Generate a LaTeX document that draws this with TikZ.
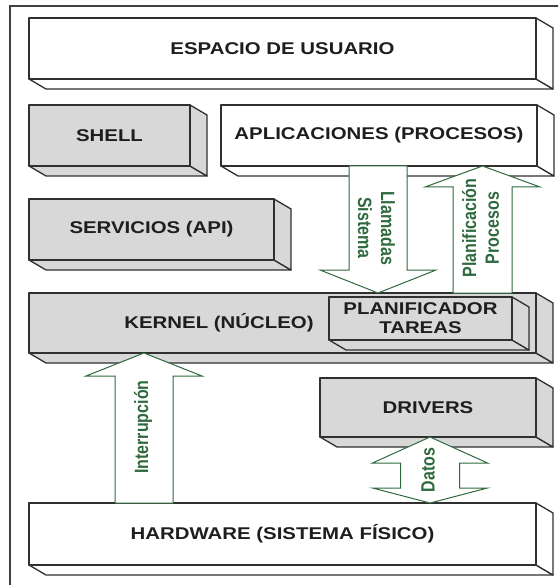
\documentclass[tikz,border=0pt]{standalone}
\usepackage{fontspec}
\setmainfont{Liberation Sans}[FakeStretch=1.2]
\newfontfamily\lblfont{Liberation Sans}
\usetikzlibrary{calc}

\definecolor{edge}{HTML}{303030}
\definecolor{framec}{HTML}{404040}
\definecolor{slabgray}{HTML}{D8D8D8}
\definecolor{flow}{HTML}{2F6A3E}
\definecolor{ink}{HTML}{1E1E1E}

\tikzset{
  slabline/.style={draw=edge, line width=1.3pt, line join=round},
  boxtext/.style={font=\fontsize{17}{19}\selectfont\bfseries, text=ink, align=center},
  flowarrow/.style={draw=flow, fill=white, line width=1pt, line join=miter},
  flowtext/.style={font=\lblfont\fontsize{16}{19}\selectfont\bfseries, text=flow, align=center, inner sep=0pt},
  frameline/.style={draw=framec, line width=1.2pt}
}

% 3-D slab: name, x1, y1, x2, y2 (front face), fill, text
\newcommand\slab[7]{%
  \pgfmathsetmacro\slabw{#4-#2}%
  \pgfmathsetmacro\slabh{#5-#3}%
  \draw[slabline, fill=#6] (#2,#5) -- (#2+17,#5+10) -- (#4+17,#5+10) -- (#4,#5) -- cycle;
  \draw[slabline, fill=#6] (#4,#3) -- (#4+17,#3+10) -- (#4+17,#5+10) -- (#4,#5) -- cycle;
  \node[slabline, fill=#6, minimum width=\slabw pt, minimum height=\slabh pt,
        anchor=north west, inner sep=0pt, outer sep=0pt, boxtext] (#1) at (#2,#3) {#7};
}

% vertical block arrow: start, tip, half shaft, half head, tip-to-head-base offset
\newcommand\blockarrow[5]{%
  \draw[flowarrow]
    ($(#1)+(-#3,0)$) -- ($(#1)+(#3,0)$) -- ($(#2)+(#3,#5)$) -- ($(#2)+(#4,#5)$)
    -- (#2) -- ($(#2)+(-#4,#5)$) -- ($(#2)+(-#3,#5)$) -- cycle;
}

\begin{document}
\begin{tikzpicture}[x=1pt, y=-1pt]
  \useasboundingbox (0,0) rectangle (558,585);
  \clip (0,0) rectangle (558,585);

  % outer frame
  \draw[frameline] (10,600) |- (580,6);

  % layers
  \slab{esp}{29}{18}{536}{79}{white}{ESPACIO DE USUARIO}
  \slab{shell}{29}{105}{190}{166}{slabgray}{SHELL}
  \slab{apl}{221}{105}{537}{166}{white}{APLICACIONES (PROCESOS)}
  \slab{serv}{29}{199}{274}{260}{slabgray}{SERVICIOS (API)}
  \slab{kern}{29}{293}{536}{353}{slabgray}{}
  \node[boxtext] (kerntxt) at (219,323) {KERNEL (NÚCLEO)};
  \slab{plan}{329}{297}{512}{340}{slabgray}{PLANIFICADOR\\TAREAS}
  \slab{drv}{320}{378}{536}{437}{slabgray}{DRIVERS}
  \slab{hw}{29}{503}{536}{565}{white}{HARDWARE (SISTEMA FÍSICO)}

  % guide positions of the flow arrows
  \coordinate (llx) at (378,0);
  \coordinate (plx) at (482.5,0);
  \coordinate (inx) at (144,0);
  \coordinate (dax) at (430,0);

  \coordinate (llTop) at (llx |- apl.south);
  \coordinate (llTip) at (llx |- kern.north);
  \coordinate (plBase) at (plx |- kern.north);
  \coordinate (plTip) at (plx |- apl.south);
  \coordinate (inBase) at (inx |- hw.north);
  \coordinate (inTip) at (inx |- kern.south);
  \coordinate (daTop) at (dax |- drv.south);
  \coordinate (daBot) at (dax |- hw.north);

  % system calls: applications -> kernel
  \blockarrow{llTop}{llTip}{29}{58}{-23}
  \node[flowtext, rotate=-90, yscale=1.2] (lltxt) at (376.5,228) {Llamadas\\Sistema};

  % process scheduling: kernel -> applications
  \blockarrow{plBase}{plTip}{29.5}{57.5}{21}
  \node[flowtext, rotate=90, yscale=1.2] (pltxt) at (480.5,228) {Planificación\\Procesos};

  % interrupts: hardware -> kernel
  \blockarrow{inBase}{inTip}{29}{58}{23}
  \node[flowtext, rotate=90, yscale=1.2] (intxt) at (143,427) {Interrupción};

  % data exchange between drivers and hardware
  \draw[flowarrow]
    (daTop) -- ($(daTop)+(57.5,26)$) -- ($(daTop)+(29.5,26)$) -- ($(daBot)+(29.5,-15)$)
    -- ($(daBot)+(57.5,-15)$) -- (daBot) -- ($(daBot)+(-57.5,-15)$) -- ($(daBot)+(-29.5,-15)$)
    -- ($(daTop)+(-29.5,26)$) -- ($(daTop)+(-57.5,26)$) -- cycle;
  \node[flowtext, rotate=90, yscale=1.2] (datxt) at (428,470) {Datos};
\end{tikzpicture}
\end{document}
